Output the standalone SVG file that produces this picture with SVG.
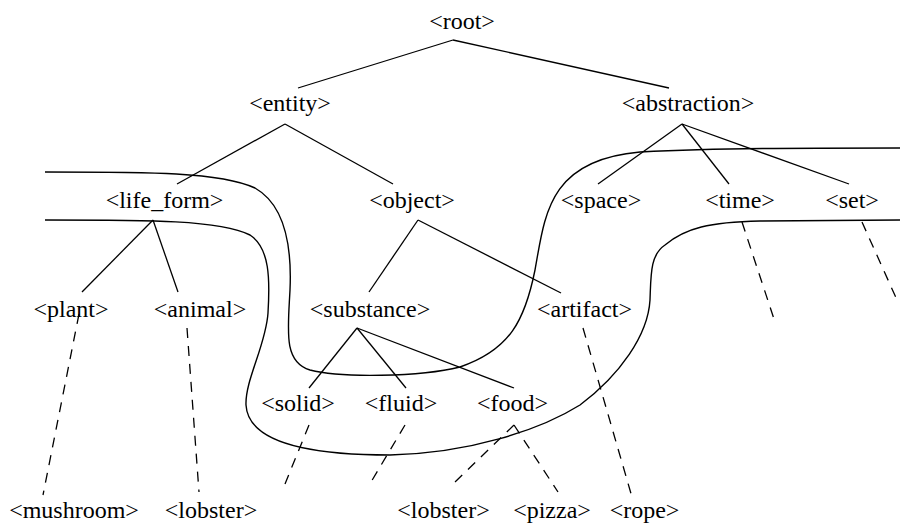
<svg xmlns="http://www.w3.org/2000/svg" width="900" height="523" viewBox="0 0 900 523">
<style>
text{font-family:"Liberation Serif","Times New Roman",serif;font-size:24px;fill:#000;text-anchor:middle}
.e{stroke:#000;stroke-width:1.3;fill:none}
.d{stroke:#000;stroke-width:1.3;fill:none;stroke-dasharray:10,8}
.c{stroke:#000;stroke-width:1.4;fill:none}
</style>
<rect width="900" height="523" fill="#fff"/>
<g id="connectors">
<line class="e" x1="453" y1="40" x2="298" y2="88"/>
<line class="e" x1="453" y1="40" x2="669" y2="88"/>
<line class="e" x1="285" y1="124" x2="177" y2="184"/>
<line class="e" x1="285" y1="124" x2="393" y2="184"/>
<line class="e" x1="682" y1="124" x2="598" y2="184"/>
<line class="e" x1="682" y1="124" x2="729" y2="184"/>
<line class="e" x1="682" y1="124" x2="849" y2="184"/>
<line class="e" x1="153" y1="220" x2="82" y2="292"/>
<line class="e" x1="153" y1="220" x2="178" y2="292"/>
<line class="e" x1="418" y1="220" x2="369" y2="292"/>
<line class="e" x1="418" y1="220" x2="561" y2="293"/>
<line class="e" x1="357" y1="328" x2="309" y2="388"/>
<line class="e" x1="357" y1="328" x2="406" y2="388"/>
<line class="e" x1="357" y1="328" x2="514" y2="388"/>
<line class="d" x1="79" y1="314" x2="43" y2="495"/>
<line class="d" x1="187" y1="328" x2="199" y2="492"/>
<line class="d" x1="309" y1="425" x2="285" y2="484"/>
<line class="d" x1="405" y1="425" x2="371" y2="482"/>
<line class="d" x1="514" y1="425" x2="455" y2="482"/>
<line class="d" x1="514" y1="425" x2="558" y2="492"/>
<line class="d" x1="583" y1="328" x2="632" y2="497"/>
<line class="d" x1="742" y1="222" x2="775" y2="322"/>
<line class="d" x1="862" y1="222" x2="897" y2="300"/>
</g>
<g id="regions">
<path class="c" d="M45,172 C150,172 220,172 255,188 C285,205 292,245 290,290 C288,330 283,362 310,370 C340,378 420,377 460,367 C510,350 525,320 535,270 C545,215 548,160 640,152 C720,148 800,148 900,148"/>
<path class="c" d="M45,220 C150,220 220,220 250,235 C270,248 270,280 268,313 C266,345 245,380 246,405 C248,440 300,455 390,455 C470,453 540,430 580,405 C620,375 648,335 650,300 C651,275 650,255 665,245 C685,228 710,222 760,221 L900,220"/>
</g>
<g id="n-root"><text x="462" y="29">&lt;root&gt;</text></g>
<g id="n-entity"><text x="290" y="111">&lt;entity&gt;</text></g>
<g id="n-abstraction"><text x="688" y="111">&lt;abstraction&gt;</text></g>
<g id="n-life_form"><text x="164.5" y="208">&lt;life_form&gt;</text></g>
<g id="n-object"><text x="412" y="208">&lt;object&gt;</text></g>
<g id="n-space"><text x="601" y="208">&lt;space&gt;</text></g>
<g id="n-time"><text x="740" y="208">&lt;time&gt;</text></g>
<g id="n-set"><text x="852" y="208">&lt;set&gt;</text></g>
<g id="n-plant"><text x="71" y="317">&lt;plant&gt;</text></g>
<g id="n-animal"><text x="200" y="317">&lt;animal&gt;</text></g>
<g id="n-substance"><text x="370" y="317">&lt;substance&gt;</text></g>
<g id="n-artifact"><text x="584.5" y="317">&lt;artifact&gt;</text></g>
<g id="n-solid"><text x="298" y="411">&lt;solid&gt;</text></g>
<g id="n-fluid"><text x="401" y="411">&lt;fluid&gt;</text></g>
<g id="n-food"><text x="512.5" y="411">&lt;food&gt;</text></g>
<g id="n-mushroom"><text x="74" y="518">&lt;mushroom&gt;</text></g>
<g id="n-lobster1"><text x="211" y="518">&lt;lobster&gt;</text></g>
<g id="n-lobster2"><text x="443.5" y="518">&lt;lobster&gt;</text></g>
<g id="n-pizza"><text x="552" y="518">&lt;pizza&gt;</text></g>
<g id="n-rope"><text x="644.5" y="518">&lt;rope&gt;</text></g>
</svg>
